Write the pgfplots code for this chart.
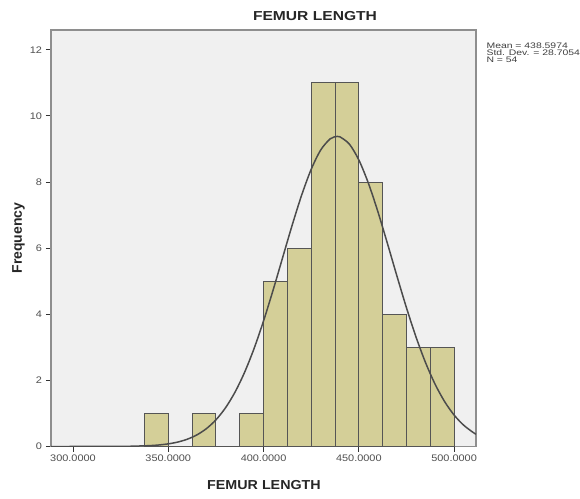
\documentclass[border=0pt]{standalone}
\usepackage{pgfplots}
\pgfplotsset{compat=1.18}
\usepackage{fontspec}
\setmainfont{Liberation Sans}
\definecolor{plotbg}{HTML}{F0F0F0}
\definecolor{barfill}{HTML}{D4CF98}
\definecolor{baredge}{HTML}{555555}
\definecolor{framecol}{HTML}{8E8E8E}
\definecolor{ticklab}{HTML}{505050}
\begin{document}
\begin{tikzpicture}[x=1pt,y=1pt]
\path[use as bounding box, fill=white] (0,0) rectangle (580,498);
\begin{axis}[
  at={(51pt,51.5pt)}, anchor=south west,
  scale only axis, width=425pt, height=416.5pt,
  xmin=288.45, xmax=511.5, ymin=0, ymax=12.6,
  axis background/.style={fill=plotbg},
  axis line style={framecol, line width=1.2pt},
  xtick={300,350,400,450,500},
  xticklabels={300.0000,350.0000,400.0000,450.0000,500.0000},
  ytick={0,2,4,6,8,10,12},
  tick align=outside, xtick pos=bottom, ytick pos=left,
  major tick length=5pt,
  tick style={black!80, line width=1pt},
  xticklabel style={font=\fontsize{9.5}{10}\selectfont, text=ticklab, xscale=1.15},
  yticklabel style={font=\fontsize{9.5}{10}\selectfont, text=ticklab, xscale=1.15},
  /pgf/number format/assume math mode=true,
]
\addplot[ybar interval, fill=barfill, draw=baredge, line width=0.9pt]
  coordinates {(337.5,1)(350,0)(362.5,1)(375,0)(387.5,1)(400,5)(412.5,6)(425,11)(437.5,11)(450,8)(462.5,4)(475,3)(487.5,3)(500,3)};
\addplot[smooth, no markers, color=black!70, line width=1.5pt]
  coordinates {(288.45,0.000)(300,0.0001)(310,0.0004)(320,0.0018)(330,0.0073)(340,0.026)(345,0.046)(350,0.080)(355,0.135)(360,0.221)(365,0.351)(370,0.540)(375,0.806)(380,1.168)(385,1.642)(390,2.238)(395,2.960)(400,3.799)(405,4.729)(410,5.712)(415,6.692)(420,7.605)(425,8.385)(430,8.970)(435,9.308)(438.6,9.381)(440,9.370)(445,9.151)(450,8.669)(455,7.968)(460,7.105)(465,6.145)(470,5.157)(475,4.198)(480,3.315)(485,2.540)(490,1.888)(495,1.361)(500,0.952)(505,0.646)(510,0.425)(511.5,0.373)};
\end{axis}
\node[font=\bfseries\fontsize{13}{14}\selectfont, text=black!85, xscale=1.2] at (315,481.5) {FEMUR LENGTH};
\node[font=\bfseries\fontsize{13}{14}\selectfont, text=black!85, xscale=1.1] at (264,13) {FEMUR LENGTH};
\node[font=\bfseries\fontsize{14}{15}\selectfont, text=black!85, rotate=90] at (18.5,260) {Frequency};
\node[font=\fontsize{8}{8}\selectfont, text=black!75, anchor=west, xscale=1.3] at (482,452) {Mean = 438.5974};
\node[font=\fontsize{8}{8}\selectfont, text=black!75, anchor=west, xscale=1.3] at (482,445) {Std. Dev. = 28.7054};
\node[font=\fontsize{8}{8}\selectfont, text=black!75, anchor=west, xscale=1.3] at (482,438) {N = 54};
\end{tikzpicture}
\end{document}
